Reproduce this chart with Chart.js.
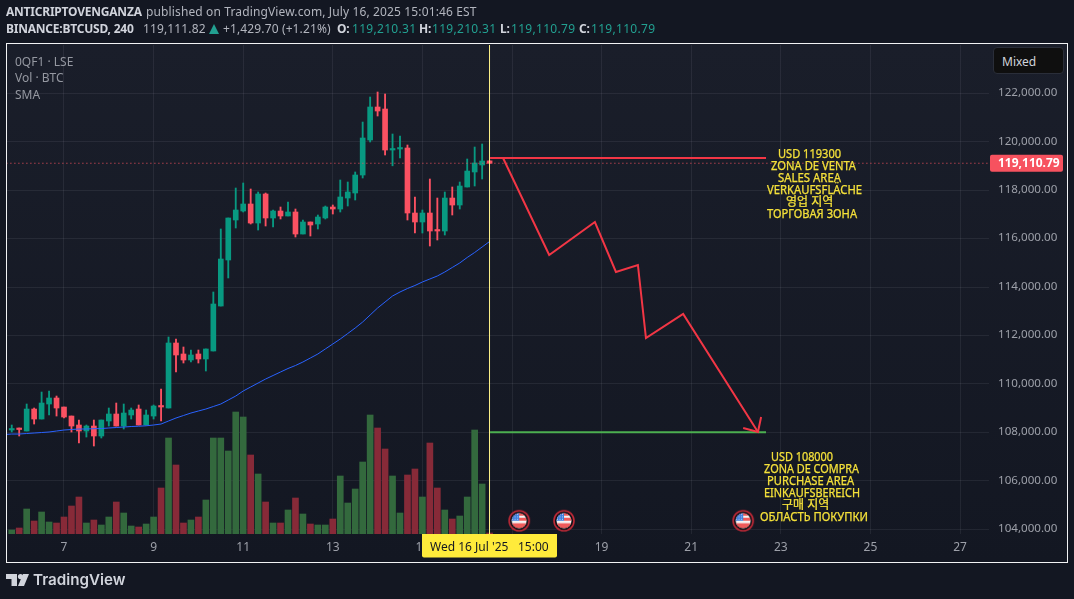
<!DOCTYPE html>
<html><head><meta charset="utf-8">
<script src="https://cdn.jsdelivr.net/npm/chart.js@4"></script>
<style>
html,body{margin:0;padding:0;background:#131722;width:1074px;height:599px;overflow:hidden}
body{position:relative;font-family:"Noto Sans",sans-serif;font-size:12px;color:#b2b5be}
canvas{position:absolute;left:0;top:0}
.t{position:absolute;white-space:pre;line-height:16px;letter-spacing:.13px}
.b{font-weight:700;color:#d1d4dc;letter-spacing:-.22px}.g{color:#22a091;letter-spacing:.3px}
#frame{position:absolute;left:6px;top:43px;width:1060px;height:518px;border:1px solid #f2f3f5;pointer-events:none}
#badge{position:absolute;left:993px;top:47px;width:69px;height:25px;background:#0f0f0f;border:1px solid #2a2e39;border-radius:4px;color:#d1d4dc;line-height:27px;text-indent:8px}
.leg{position:absolute;left:15px;color:#9598a1;line-height:16px}
#logoT{position:absolute;left:33px;top:570px;font:600 15.2px/20px "Inter","Noto Sans",sans-serif;color:#d1d4dc}
</style></head><body>
<canvas id="c" width="1074" height="599"></canvas>
<div id="frame"></div>
<div class="t b" style="left:6px;top:4px">ANTICRIPTOVENGANZA</div>
<div class="t" style="left:146px;top:4px">published on TradingView.com, July 16, 2025 15:01:46 EST</div>
<div class="t b" style="left:6px;top:21px">BINANCE:BTCUSD, 240</div>
<div class="t" style="left:143px;top:21px">119,111.82</div>
<svg style="position:absolute;left:208px;top:24px" width="12" height="10"><path d="M6 0L11 10H1z" fill="#22a091"/></svg>
<div class="t" style="left:223px;top:21px">+1,429.70 (+1.21%)</div>
<div class="t b" style="left:337px;top:21px">O:</div><div class="t g" style="left:352px;top:21px">119,210.31</div>
<div class="t b" style="left:419px;top:21px">H:</div><div class="t g" style="left:432px;top:21px">119,210.31</div>
<div class="t b" style="left:500px;top:21px">L:</div><div class="t g" style="left:511px;top:21px">119,110.79</div>
<div class="t b" style="left:579px;top:21px">C:</div><div class="t g" style="left:591px;top:21px">119,110.79</div>
<div class="leg" style="top:54px">0QF1 · LSE</div>
<div class="leg" style="top:70px">Vol · BTC</div>
<div class="leg" style="top:87px">SMA</div>
<div id="badge">Mixed</div>
<svg style="position:absolute;left:6px;top:574px" width="24" height="12"><path d="M0 0H11V12H5.5V5H0z" fill="#d1d4dc"/><circle cx="14.5" cy="2.6" r="2.6" fill="#d1d4dc"/><path d="M17 0H23L18 12H12z" fill="#d1d4dc"/></svg>
<div id="logoT">TradingView</div>
<script>
// ---- categories / time
const firstBarDay = 5.8333;
const barsPerDay = 6;
const dayTicks = [7,9,11,13,15,17,19,21,23,25,27];
const priceTicks = [104000,106000,108000,110000,112000,114000,116000,118000,120000,122000];
// ---- candles
const opens = [108097,108151,108056,108964,108551,109171,109419,109047,108675,108304,108056,108262,107850,108469,108758,108262,108717,108964,108304,108675,109088,109006,111690,111236,110988,111236,111030,111360,113217,115117,116768,117140,117429,116644,117842,116851,117140,116934,117099,116190,116686,116603,116851,117305,117222,117676,117883,118626,120071,121434,121351,119658,119699,119741,117057,116686,117057,116355,116314,117676,117387,118131,118751,119040,119210];
const highs = [108304,108180,109171,109006,109666,109708,109501,109047,108675,108510,108304,108510,108510,109006,109212,109171,109006,109130,108923,109130,109790,111938,111855,111525,111401,111401,111443,113796,116397,116851,118089,118296,118048,117924,117883,117181,117305,117511,117222,116768,116686,116975,117346,117388,118420,118337,118751,120813,121847,122053,121971,120319,120236,119865,117718,117181,118461,117676,117924,118131,118337,119287,119782,119906,119210];
const lows = [108015,107850,108056,108345,108551,108717,108675,108593,108015,107561,107808,107437,107767,108262,108262,108139,108551,108304,108304,108551,108469,109006,110493,110864,110906,110864,110534,111360,113217,114374,116438,117099,116603,116355,116521,116479,116810,116934,116066,116190,116107,116397,116810,117016,117099,117346,117594,118502,119989,121062,119452,119006,119328,116768,116231,116231,115695,115943,116149,116975,117222,118131,118172,118461,119110];
const closes = [108139,108118,108964,108551,109212,109419,109006,108634,108262,108056,108262,107850,108510,108758,108262,108799,108923,108304,108717,109088,109047,111690,111195,110988,111195,111030,111443,113300,115158,116851,117181,117429,116644,117842,116851,117140,116934,117099,116190,116686,116562,116892,117305,117222,117718,117924,118626,120154,121434,121269,119658,119699,119741,117057,116686,117057,116314,116314,117676,117387,118172,118790,119123,119205,119110];
const volumes = [60,90,375,195,330,180,165,255,420,555,165,210,135,255,480,315,120,105,150,255,690,1440,1035,165,210,255,510,1440,1440,1245,1830,1755,1185,900,480,165,165,360,540,300,150,135,135,225,870,465,675,1080,1785,1590,1275,870,315,885,975,555,1365,690,360,225,270,555,1560,750,15];
const smaValues = [107932,107932,107953,107973,107994,108015,108056,108097,108118,108139,108139,108151,108159,108180,108201,108221,108242,108254,108271,108304,108345,108469,108593,108696,108799,108882,108964,109068,109171,109336,109501,109708,109873,110038,110203,110348,110493,110637,110761,110906,111071,111236,111443,111649,111855,112082,112309,112557,112846,113135,113383,113630,113796,113940,114064,114209,114333,114457,114622,114808,114994,115221,115427,115654,115881];
const smaPrevValue = 107912;
// ---- drawings
const lastPrice = 119110.79;
const sellLevel = 119330, buyLevel = 108000;
const levelStartDay = 16.51, levelEndDay = 22.67;
const zigDays = [16.80,17.83,18.85,19.32,19.81,19.99,20.82,22.49];
const zigPrices = [119328,115323,116686,114622,114911,111893,112887,108015];
const arrowDays = [22.16,22.49,22.56];
const arrowPrices = [108180,108015,108634];
const eventDays = [17.16,18.16,22.16];
const eventPrice = 104352;
const crossDay = 16.498;
const crossLabel = ["Wed 16 Jul '25","15:00"];
const sellText = ["USD 119300","ZONA DE VENTA","SALES AREA","VERKAUFSFLÄCHE","영업 지역","ТОРГОВАЯ ЗОНА"];
const buyText = ["USD 108000","ZONA DE COMPRA","PURCHASE AREA","EINKAUFSBEREICH","구매 지역","ОБЛАСТЬ ПОКУПКИ"];

const UP='#089981', DOWN='#fb5162', VUP='#33693d', VDOWN='#872a38', GRID='rgba(240,243,250,0.07)';
const dayOf = i => firstBarDay + i/barsPerDay;
const colors = opens.map((o,i)=> closes[i]>=o ? UP : DOWN);
const vColors = opens.map((o,i)=> closes[i]>=o ? VUP : VDOWN);
const F = '"Noto Sans",sans-serif';

// flag marker
const flag = document.createElement('canvas'); flag.width=flag.height=24;
(function(){const g=flag.getContext('2d');
 g.beginPath();g.arc(12,12,10,0,7);g.fillStyle='#0d0f16';g.fill();g.lineWidth=1.6;g.strokeStyle='#c22a38';g.stroke();
 g.save();g.beginPath();g.arc(12,12,7.5,0,7);g.clip();
 g.fillStyle='#f5f5f5';g.fillRect(0,0,24,24);
 g.fillStyle='#ef5a5a';g.fillRect(0,4,24,3);g.fillRect(12,9,8,3);g.fillRect(0,14.5,24,5);
 g.fillStyle='#3d7ede';g.fillRect(3,3,9,9);
 g.fillStyle='#cfe0fa';for(let a=5;a<12;a+=2.5)for(let b=5;b<12;b+=2.5)g.fillRect(a,b,1,1);
 g.restore();})();

const overlay = {
 id:'overlay',
 beforeDraw(ch){
  const {ctx}=ch; const gr=ctx.createLinearGradient(0,44,0,562);
  gr.addColorStop(0,'#1a1e2a');gr.addColorStop(1,'#131722');
  ctx.save();ctx.fillStyle=gr;ctx.fillRect(7,44,1060,518);ctx.restore();
 },
 afterDraw(ch){
  const {ctx,scales:{x,y}}=ch; ctx.save();
  // annotation text
  ctx.fillStyle='#f5e13a';ctx.strokeStyle='#f5e13a';ctx.lineWidth=.25;ctx.textBaseline='middle';ctx.textAlign='left';
  ctx.font='12px '+F+',"Noto Sans CJK KR"';
  const sx=[778,771,778,767,786,767], sw=[63,85,63,95,50,90];
  const bx=[771,764,767,764,782,760], bw=[62,95,87,96,51,108];
  const x0=x.getPixelForValue(levelEndDay);
  const put=(s,px,py,w)=>{ctx.fillText(s,px,py,w);ctx.strokeText(s,px,py,w);};
  sellText.forEach((s,i)=>put(s,x0+sx[i]-766,y.getPixelForValue(sellLevel)-3.5+i*12,sw[i]));
  buyText.forEach((s,i)=>put(s,x0+bx[i]-766,y.getPixelForValue(buyLevel)+25+i*12,bw[i]));
  // last price tag
  const py=y.getPixelForValue(lastPrice);
  ctx.fillStyle='#f7525f';ctx.beginPath();ctx.roundRect(990,py-8.5,73,17,2);ctx.fill();
  ctx.fillStyle='#fff';ctx.font='700 12px '+F;ctx.fillText(lastPrice.toLocaleString('en-US',{minimumFractionDigits:2}),998,py+.5);
  // crosshair time tag
  ctx.fillStyle='#ffeb3b';ctx.beginPath();ctx.roundRect(422,534,135,23.5,[0,0,2,2]);ctx.fill();
  ctx.fillStyle='#131722';ctx.font='12px '+F;
  ctx.fillText(crossLabel[0],430,548);ctx.fillText(crossLabel[1],518,548);
  ctx.restore();
 }
};

new Chart(document.getElementById('c'),{
 data:{datasets:[
  {type:'bar',yAxisID:'v',grouped:false,order:10,barThickness:6,backgroundColor:vColors,
   data:volumes.map((v,i)=>({x:dayOf(i),y:v}))},
  {type:'bar',grouped:false,order:8,barThickness:1.2,minBarLength:1,backgroundColor:colors,
   data:lows.map((l,i)=>({x:dayOf(i),y:[l,highs[i]]}))},
  {type:'bar',grouped:false,order:7,barThickness:5,minBarLength:1.5,backgroundColor:colors,
   data:opens.map((o,i)=>({x:dayOf(i),y:[o,closes[i]]}))},
  {type:'line',order:6,borderColor:'#2962ff',borderWidth:1,pointRadius:0,tension:0,
   data:[{x:dayOf(-1),y:smaPrevValue}].concat(smaValues.map((v,i)=>({x:dayOf(i),y:v})))},
  {type:'line',order:5,borderColor:'#f7525f',borderWidth:1.1,borderDash:[1,3],pointRadius:0,
   data:[{x:5,y:lastPrice},{x:28,y:lastPrice}]},
  {type:'line',order:4,borderColor:'#f23645',borderWidth:2,pointRadius:0,
   data:[{x:levelStartDay,y:sellLevel},{x:levelEndDay,y:sellLevel}]},
  {type:'line',order:4,borderColor:'#4caf50',borderWidth:2,pointRadius:0,
   data:[{x:levelStartDay,y:buyLevel},{x:levelEndDay,y:buyLevel}]},
  {type:'line',order:3,borderColor:'#f23645',borderWidth:2,pointRadius:0,tension:0,
   data:zigDays.map((d,i)=>({x:d,y:zigPrices[i]}))},
  {type:'line',order:3,borderColor:'#f23645',borderWidth:2,pointRadius:0,tension:0,
   data:arrowDays.map((d,i)=>({x:d,y:arrowPrices[i]}))},
  {type:'line',order:2,showLine:false,pointStyle:flag,pointRadius:12,
   data:eventDays.map(d=>({x:d,y:eventPrice}))},
  {type:'line',order:1,borderColor:'#fff38a',borderWidth:1,pointRadius:0,
   data:[{x:crossDay,y:103000},{x:crossDay,y:125000}]}
 ]},
 options:{
  responsive:false,animation:false,events:[],
  layout:{autoPadding:false,padding:{left:7,right:6,top:45,bottom:36}},
  plugins:{legend:{display:false},tooltip:{enabled:false},title:{display:false}},
  scales:{
   x:{type:'linear',offset:false,min:5.7277,max:27.647,
      afterBuildTicks:s=>{s.ticks=dayTicks.map(v=>({value:v}))},
      afterFit:s=>{s.height=29;s.paddingLeft=0;s.paddingRight=0},
      grid:{color:GRID,drawTicks:false,offset:false},border:{display:false},
      ticks:{autoSkip:false,maxRotation:0,padding:6.5,color:'#9da0a9',font:{family:F,size:12},callback:v=>String(v)}},
   y:{type:'linear',position:'right',min:103804,max:123994,
      afterBuildTicks:s=>{s.ticks=priceTicks.map(v=>({value:v}))},
      afterFit:s=>{s.width=79;s.paddingTop=0;s.paddingBottom=0},
      grid:{color:GRID,drawTicks:false},border:{display:false},
      ticks:{autoSkip:false,padding:9,labelOffset:-0.5,color:'#9da0a9',font:{family:F,size:11.6},
             callback:v=>v.toLocaleString('en-US',{minimumFractionDigits:2})}},
   v:{type:'linear',display:false,min:0,max:7335}
  }
 },
 plugins:[overlay]
});
</script>
</body></html>
